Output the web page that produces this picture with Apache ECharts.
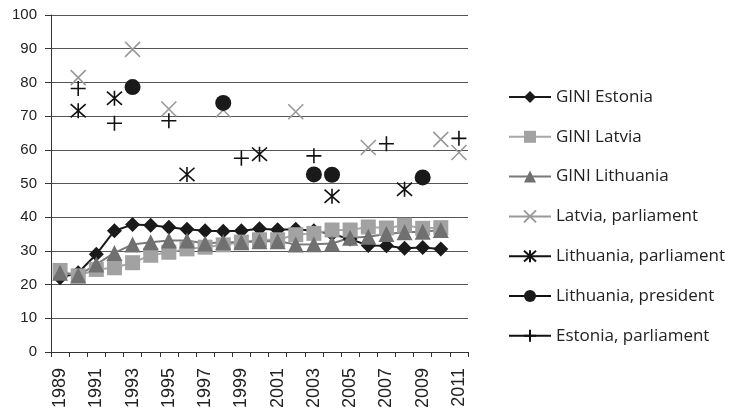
<!DOCTYPE html>
<html>
<head>
<meta charset="utf-8">
<script src="https://cdn.jsdelivr.net/npm/echarts@6/dist/echarts.min.js"></script>
<style>
html,body{margin:0;padding:0;background:#fff;}
#chart{width:733px;height:412px;}
</style>
</head>
<body>
<div id="chart"></div>
<script>
var years = ['1989','1990','1991','1992','1993','1994','1995','1996','1997','1998','1999','2000','2001','2002','2003','2004','2005','2006','2007','2008','2009','2010','2011'];
var yTicks = [0,10,20,30,40,50,60,70,80,90,100];

var giniEstonia   = [22, 23.5, 29, 36, 37.8, 37.6, 37, 36.4, 36, 35.8, 36, 36.6, 36.3, 36.4, 36, 35, 33.5, 31.6, 31.5, 30.8, 31, 30.6, null];
var giniLatvia    = [24.2, 22.6, 24.5, 25, 26.5, 28.7, 29.6, 30.6, 31.1, 31.8, 32.6, 33.3, 33.3, 34.8, 35.2, 36.2, 36.2, 37.1, 36.8, 37.6, 36.7, 36.9, null];
var giniLithuania = [23.5, 22.7, 26, 29.4, 31.9, 32.6, 33.1, 33.1, 32.2, 32.6, 32.6, 32.9, 32.9, 31.9, 32, 32.2, 33.9, 34.2, 35, 35.5, 35.7, 36.2, null];

var latviaParliament    = [['1990', 81.4], ['1993', 89.8], ['1995', 72.1], ['1998', 71.8], ['2002', 71.3], ['2006', 60.7], ['2010', 63.1], ['2011', 59.2]];
var lithuaniaParliament = [['1990', 71.6], ['1992', 75.3], ['1996', 52.7], ['2000', 58.7], ['2004', 46.2], ['2008', 48.3]];
var lithuaniaPresident  = [['1993', 78.6], ['1998', 73.9], ['2003', 52.7], ['2004', 52.6], ['2009', 51.8]];
var estoniaParliament   = [['1990', 78.2], ['1992', 67.9], ['1995', 68.6], ['1999', 57.5], ['2003', 58.2], ['2007', 61.8], ['2011', 63.4]];

var names = ['GINI Estonia','GINI Latvia','GINI Lithuania','Latvia, parliament','Lithuania, parliament','Lithuania, president','Estonia, parliament'];

var pathX = 'path://M0,0L16,16M16,0L0,16';
var pathStar = 'path://M0,0L16,16M16,0L0,16M8,-1L8,17';
var pathPlus = 'path://M8,0L8,16M0,8L16,8';

function giniSeries(name, data, color, lineColor, symbol, size) {
  return {
    name: name, type: 'line', data: data, color: color,
    symbol: symbol, symbolSize: size, showSymbol: true, showAllSymbol: true,
    lineStyle: {color: lineColor, width: 2},
    itemStyle: {color: color, borderWidth: 0},
    emphasis: {disabled: true}
  };
}
function markSeries(name, data, color, symbol, size, stroke) {
  return {
    name: name, type: 'line', data: data, color: color,
    symbol: symbol, symbolSize: size, showSymbol: true, showAllSymbol: true,
    lineStyle: {opacity: 0},
    itemStyle: stroke ? {color: 'rgba(0,0,0,0)', borderColor: color, borderWidth: 1.6} : {color: color, borderWidth: 0},
    emphasis: {disabled: true}
  };
}

var chart = echarts.init(document.getElementById('chart'));
chart.setOption({
  animation: false,
  backgroundColor: '#fff',
  grid: {left: 51, right: 265, top: 15, bottom: 60, containLabel: false},
  legend: {
    orient: 'vertical', left: 503, top: 83,
    itemWidth: 42, itemHeight: 15, itemGap: 21.8,
    textStyle: {fontFamily: 'Open Sans', fontSize: 17, color: '#222', lineHeight: 18},
    data: [
      {name: names[0]},
      {name: names[1]},
      {name: names[2]},
      {name: names[3], lineStyle: {opacity: 1, width: 2, color: '#999'}},
      {name: names[4], lineStyle: {opacity: 1, width: 2, color: '#111'}},
      {name: names[5], lineStyle: {opacity: 1, width: 2, color: '#111'}},
      {name: names[6], lineStyle: {opacity: 1, width: 2, color: '#111'}}
    ]
  },
  xAxis: {
    type: 'category', data: years, boundaryGap: true,
    axisLine: {lineStyle: {color: '#333', width: 1}},
    axisTick: {show: true, interval: 0, length: 5, lineStyle: {color: '#333'}},
    axisLabel: {interval: 1, rotate: 90, margin: 16, fontFamily: 'Liberation Sans', fontSize: 18, color: '#222', padding: [0, 0, 8, 0]},
    splitLine: {show: false}
  },
  yAxis: {
    type: 'value', min: yTicks[0], max: yTicks[yTicks.length - 1], interval: 10,
    axisLine: {show: true, lineStyle: {color: '#333', width: 1}},
    axisTick: {show: true, length: 6, lineStyle: {color: '#333'}},
    axisLabel: {margin: 14, fontFamily: 'Liberation Sans', fontSize: 15, color: '#222'},
    splitLine: {show: true, lineStyle: {color: '#555', width: 1}}
  },
  series: [
    giniSeries(names[0], giniEstonia, '#1a1a1a', '#1a1a1a', 'diamond', 15),
    giniSeries(names[1], giniLatvia, '#a2a2a2', '#a8a8a8', 'rect', 15),
    giniSeries(names[2], giniLithuania, '#707070', '#7a7a7a', 'triangle', 16),
    markSeries(names[3], latviaParliament, '#999', pathX, 15, true),
    markSeries(names[4], lithuaniaParliament, '#111', pathStar, 15, true),
    markSeries(names[5], lithuaniaPresident, '#1a1a1a', 'circle', 16, false),
    markSeries(names[6], estoniaParliament, '#111', pathPlus, 15, true)
  ]
});
</script>
</body>
</html>
